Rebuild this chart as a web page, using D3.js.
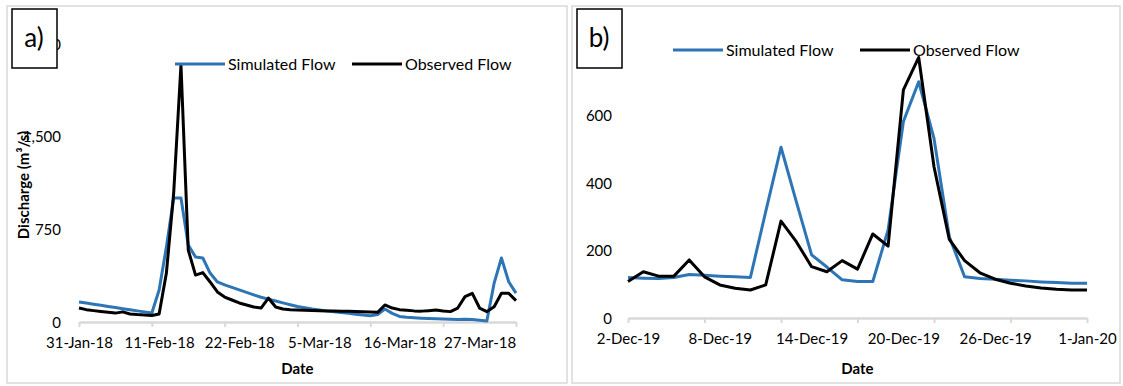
<!DOCTYPE html>
<html>
<head>
<meta charset="utf-8">
<script src="https://cdn.jsdelivr.net/npm/d3@7"></script>
<style>
  body { margin: 0; background: #fff; }
  svg { display: block; font-family: Lato, "Open Sans", sans-serif; }
</style>
</head>
<body>
<script>
// panel a) daily flows 31-Jan-18 .. 1-Apr-18
var aSimulated = [162, 153, 144, 135, 126, 117, 108, 99, 90, 82, 73, 259, 607, 1004, 1004, 623, 526, 518, 396, 324,
  300, 280, 260, 240, 220, 200, 185, 170, 155, 140, 125, 115, 105, 97, 90, 83, 77, 70, 63, 57,
  50, 60, 105, 70, 45, 38, 34, 31, 28, 26, 24, 22, 20, 22, 20, 14, 8, 315, 518, 326, 234];
var aObserved = [113, 100, 92, 85, 78, 72, 82, 65, 60, 57, 52, 65, 396, 1044, 2080, 583, 380, 400, 324, 243,
  202, 178, 154, 138, 121, 113, 194, 121, 105, 100, 97, 95, 93, 92, 90, 89, 88, 86, 85, 83,
  80, 78, 138, 113, 100, 95, 90, 88, 92, 97, 89, 84, 113, 205, 232, 113, 84, 124, 232, 232, 173];
var aDateLabels = ["31-Jan-18", "11-Feb-18", "22-Feb-18", "5-Mar-18", "16-Mar-18", "27-Mar-18"];
var aYTicks = [0, 750, 1500, 2250];

// panel b) daily flows 2-Dec-19 .. 1-Jan-20
var bSimulated = [120, 118, 117, 120, 129, 127, 124, 122, 120, 315, 506, 345, 187, 151, 113, 108, 108, 261, 582, 700,
  532, 241, 122, 117, 115, 112, 110, 107, 105, 103, 103];
var bObserved = [108, 137, 124, 124, 172, 122, 98, 88, 83, 98, 287, 226, 152, 137, 170, 145, 249, 213, 676, 772,
  448, 233, 170, 134, 115, 103, 95, 89, 85, 83, 83];
var bDateLabels = ["2-Dec-19", "8-Dec-19", "14-Dec-19", "20-Dec-19", "26-Dec-19", "1-Jan-20"];
var bYTicks = [0, 200, 400, 600, 800];

var seriesNames = ["Simulated Flow", "Observed Flow"];
var blue = "#2e75b6";

var svg = d3.select("body").append("svg")
  .attr("width", 1123)
  .attr("height", 386);

function drawPanel(p) {
  var g = svg.append("g");

  // outer frame
  g.append("rect")
    .attr("x", p.frame[0]).attr("y", 6)
    .attr("width", p.frame[1] - p.frame[0]).attr("height", 377)
    .attr("fill", "none").attr("stroke", "#d9d9d9").attr("stroke-width", 1.5);

  var n = p.sim.length;
  var x = d3.scaleLinear().domain([0, n - 1]).range([p.left, p.right]);
  var y = d3.scaleLinear().domain([0, p.yTicks[p.yTicks.length - 1]]).range([p.bottom, p.top]);

  // y tick labels (no axis line, no gridlines)
  var yAxis = g.append("g")
    .attr("transform", "translate(" + (p.left - p.yPad) + ",0)")
    .call(d3.axisLeft(y).tickValues(p.yTicks).tickSize(0).tickFormat(d3.format(",")));
  yAxis.select(".domain").remove();
  yAxis.selectAll("text").attr("x", 0).attr("dy", "0.35em")
    .style("font-family", "Lato").style("font-size", "15px").attr("fill", "#000");

  // x axis line + tick marks
  var tickIdx = d3.range(0, n, p.tickStep);
  var xAxis = g.append("g")
    .attr("transform", "translate(0," + p.bottom + ")")
    .call(d3.axisBottom(x).tickValues(tickIdx).tickSize(5).tickSizeOuter(0).tickFormat(""));
  xAxis.select(".domain").attr("stroke", "#d9d9d9").attr("stroke-width", 2.5);
  xAxis.selectAll(".tick line").attr("stroke", "#d9d9d9").attr("stroke-width", 2);

  // date labels on a different interval than the tick marks
  var labelIdx = p.labels.map(function (d, i) { return i * p.labelStep; });
  var xLabels = g.append("g")
    .attr("transform", "translate(0," + p.bottom + ")")
    .call(d3.axisBottom(x).tickValues(labelIdx).tickSize(0)
      .tickFormat(function (d) { return p.labels[d / p.labelStep]; }));
  xLabels.select(".domain").remove();
  xLabels.selectAll("text").attr("y", 26).attr("dy", 0)
    .style("font-family", "Lato").style("font-size", "15px").attr("fill", "#000");

  g.append("text")
    .attr("x", (p.left + p.right) / 2).attr("y", 374)
    .attr("text-anchor", "middle")
    .style("font-size", "15px").style("font-weight", "bold")
    .text("Date");

  var line = d3.line()
    .x(function (d, i) { return x(i); })
    .y(function (d) { return y(d); });

  g.append("path").datum(p.sim)
    .attr("d", line).attr("fill", "none")
    .attr("stroke", blue).attr("stroke-width", 3).attr("stroke-linejoin", "round");
  g.append("path").datum(p.obs)
    .attr("d", line).attr("fill", "none")
    .attr("stroke", "#000").attr("stroke-width", 3).attr("stroke-linejoin", "round");

  // legend
  var colors = [blue, "#000"];
  seriesNames.forEach(function (name, i) {
    var lx = p.legend[i];
    g.append("line")
      .attr("x1", lx).attr("x2", lx + 50)
      .attr("y1", p.legendY).attr("y2", p.legendY)
      .attr("stroke", colors[i]).attr("stroke-width", 3);
    g.append("text")
      .attr("x", lx + 53).attr("y", p.legendY).attr("dy", "0.35em")
      .style("font-size", "16px")
      .text(name);
  });

  // panel tag box, sits over the top tick label
  g.append("rect")
    .attr("x", p.frame[0] + 5).attr("y", 9)
    .attr("width", 45).attr("height", 59)
    .attr("fill", "#fff").attr("stroke", "#000").attr("stroke-width", 1.5);
  g.append("text")
    .attr("x", p.frame[0] + 27).attr("y", 47)
    .attr("text-anchor", "middle")
    .style("font-size", "26px")
    .text(p.tag);

  return g;
}

drawPanel({
  frame: [7, 567], left: 79, right: 516, bottom: 322, top: 44, yPad: 18,
  sim: aSimulated, obs: aObserved, yTicks: aYTicks,
  tickStep: 10, labelStep: 11, labels: aDateLabels,
  legend: [175, 352], legendY: 64, tag: "a)"
});

drawPanel({
  frame: [572, 1120], left: 628, right: 1087, bottom: 318, top: 48, yPad: 16,
  sim: bSimulated, obs: bObserved, yTicks: bYTicks,
  tickStep: 5, labelStep: 6, labels: bDateLabels,
  legend: [673, 860], legendY: 50, tag: "b)"
});

// y title only on panel a
svg.append("text")
  .attr("transform", "translate(29,185) rotate(-90)")
  .attr("text-anchor", "middle")
  .style("font-size", "15px").style("font-weight", "bold")
  .text("Discharge (m³/s)");
</script>
</body>
</html>
